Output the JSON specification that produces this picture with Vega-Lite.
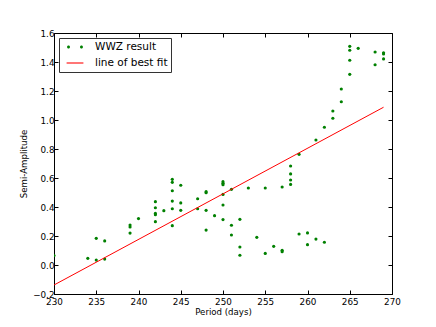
{
  "$schema": "https://vega.github.io/schema/vega-lite/v6.json",
  "autosize": "none",
  "width": 338,
  "height": 261,
  "padding": {"left": 54, "top": 33, "right": 44, "bottom": 33},
  "background": "white",
  "config": {
    "font": "DejaVu Sans",
    "view": {"stroke": "black", "strokeWidth": 1},
    "axis": {
      "grid": false,
      "domainColor": "black",
      "tickColor": "black",
      "labelColor": "black",
      "titleColor": "black",
      "labelFont": "DejaVu Sans",
      "titleFont": "DejaVu Sans",
      "labelFontSize": 8.8,
      "titleFontSize": 8.6,
      "titleFontWeight": "normal",
      "tickSize": -4
    },
    "legend": {
      "labelFont": "DejaVu Sans",
      "labelFontSize": 10.5,
      "labelColor": "black",
      "orient": "top-left",
      "offset": 5,
      "padding": 3,
      "strokeColor": "#333333",
      "fillColor": "white",
      "cornerRadius": 0,
      "symbolSize": 144,
      "symbolOffset": 7,
      "labelOffset": 14,
      "rowPadding": 4,
      "symbolStrokeWidth": 0,
      "symbolStrokeColor": "transparent"
    }
  },
  "datasets": {
    "pts": [
      {"period": 230, "amp": 0.065},
      {"period": 234, "amp": 0.046},
      {"period": 235, "amp": 0.184},
      {"period": 235, "amp": 0.034},
      {"period": 236, "amp": 0.166},
      {"period": 236, "amp": 0.041},
      {"period": 239, "amp": 0.276},
      {"period": 239, "amp": 0.262},
      {"period": 239, "amp": 0.22},
      {"period": 240, "amp": 0.32},
      {"period": 242, "amp": 0.437},
      {"period": 242, "amp": 0.395},
      {"period": 242, "amp": 0.356},
      {"period": 242, "amp": 0.347},
      {"period": 242, "amp": 0.299},
      {"period": 243, "amp": 0.375},
      {"period": 244, "amp": 0.591},
      {"period": 244, "amp": 0.57},
      {"period": 244, "amp": 0.512},
      {"period": 244, "amp": 0.441},
      {"period": 244, "amp": 0.388},
      {"period": 244, "amp": 0.271},
      {"period": 245, "amp": 0.55},
      {"period": 245, "amp": 0.428},
      {"period": 245, "amp": 0.377},
      {"period": 247, "amp": 0.457},
      {"period": 247, "amp": 0.388},
      {"period": 248, "amp": 0.506},
      {"period": 248, "amp": 0.499},
      {"period": 248, "amp": 0.377},
      {"period": 248, "amp": 0.241},
      {"period": 249, "amp": 0.34},
      {"period": 250, "amp": 0.575},
      {"period": 250, "amp": 0.563},
      {"period": 250, "amp": 0.554},
      {"period": 250, "amp": 0.487},
      {"period": 250, "amp": 0.414},
      {"period": 250, "amp": 0.313},
      {"period": 251, "amp": 0.522},
      {"period": 251, "amp": 0.274},
      {"period": 251, "amp": 0.207},
      {"period": 252, "amp": 0.315},
      {"period": 252, "amp": 0.124},
      {"period": 252, "amp": 0.067},
      {"period": 253, "amp": 0.531},
      {"period": 254, "amp": 0.191},
      {"period": 255, "amp": 0.531},
      {"period": 255, "amp": 0.08},
      {"period": 256, "amp": 0.129},
      {"period": 257, "amp": 0.538},
      {"period": 257, "amp": 0.101},
      {"period": 257, "amp": 0.092},
      {"period": 258, "amp": 0.683},
      {"period": 258, "amp": 0.628},
      {"period": 258, "amp": 0.586},
      {"period": 258, "amp": 0.556},
      {"period": 259, "amp": 0.763},
      {"period": 259, "amp": 0.214},
      {"period": 260, "amp": 0.221},
      {"period": 260, "amp": 0.14},
      {"period": 261, "amp": 0.862},
      {"period": 261, "amp": 0.179},
      {"period": 262, "amp": 0.95},
      {"period": 262, "amp": 0.157},
      {"period": 263, "amp": 1.012},
      {"period": 263, "amp": 1.062},
      {"period": 264, "amp": 1.126},
      {"period": 264, "amp": 1.214},
      {"period": 265, "amp": 1.315},
      {"period": 265, "amp": 1.412},
      {"period": 265, "amp": 1.481},
      {"period": 265, "amp": 1.508},
      {"period": 266, "amp": 1.494},
      {"period": 268, "amp": 1.469},
      {"period": 268, "amp": 1.381},
      {"period": 269, "amp": 1.464},
      {"period": 269, "amp": 1.455},
      {"period": 269, "amp": 1.421}
    ],
    "fit": [
      {"period": 230, "amp": -0.138},
      {"period": 269, "amp": 1.088}
    ]
  },
  "layer": [
    {
      "data": {"name": "pts"},
      "transform": [{"calculate": "'WWZ result'", "as": "series"}],
      "mark": {"type": "point", "filled": true, "size": 10, "opacity": 1, "strokeWidth": 0, "clip": true},
      "encoding": {
        "x": {
          "field": "period", "type": "quantitative",
          "scale": {"domain": [230, 270], "nice": false, "zero": false},
          "axis": {"orient": "bottom", "values": [230, 235, 240, 245, 250, 255, 260, 265, 270], "title": "Period (days)", "labelPadding": 7, "titlePadding": 2, "labelFlush": false}
        },
        "y": {
          "field": "amp", "type": "quantitative",
          "scale": {"domain": [-0.2, 1.6], "nice": false, "zero": false},
          "axis": {"orient": "left", "values": [-0.2, 0, 0.2, 0.4, 0.6, 0.8, 1.0, 1.2, 1.4, 1.6], "title": "Semi-Amplitude", "labelPadding": 4, "titlePadding": 4, "labelExpr": "replace(format(datum.value, '.1f'), '-', '\u2212')", "labelFlush": false}
        },
        "color": {
          "field": "series", "type": "nominal",
          "scale": {"domain": ["WWZ result", "line of best fit"], "range": ["#008000", "#ff0000"]},
          "legend": {"title": null}
        }
      }
    },
    {
      "data": {"name": "fit"},
      "transform": [{"calculate": "'line of best fit'", "as": "series"}],
      "mark": {"type": "line", "strokeWidth": 1, "clip": true},
      "encoding": {
        "x": {
          "field": "period", "type": "quantitative",
          "axis": {"orient": "top", "values": [230, 235, 240, 245, 250, 255, 260, 265, 270], "labels": false, "title": null, "domain": false}
        },
        "y": {
          "field": "amp", "type": "quantitative",
          "axis": {"orient": "right", "values": [-0.2, 0, 0.2, 0.4, 0.6, 0.8, 1.0, 1.2, 1.4, 1.6], "labels": false, "title": null, "domain": false}
        },
        "color": {"field": "series", "type": "nominal", "legend": {"title": null}}
      }
    },
    {
      "data": {"name": "fit"},
      "transform": [{"calculate": "'line of best fit'", "as": "series"}],
      "mark": {"type": "point", "filled": true, "opacity": 0, "clip": true},
      "encoding": {
        "x": {"field": "period", "type": "quantitative", "axis": null},
        "y": {"field": "amp", "type": "quantitative", "axis": null},
        "color": {"field": "series", "type": "nominal", "legend": {"title": null}},
        "shape": {
          "field": "series", "type": "nominal",
          "scale": {"domain": ["WWZ result", "line of best fit"], "range": ["M-1.33,0A0.25,0.25 0 1,0 -0.83,0A0.25,0.25 0 1,0 -1.33,0Z M0.83,0A0.25,0.25 0 1,0 1.33,0A0.25,0.25 0 1,0 0.83,0Z", "M-1.4,-0.09L1.4,-0.09L1.4,0.09L-1.4,0.09Z"]},
          "legend": {"title": null}
        }
      }
    }
  ],
  "resolve": {"axis": {"x": "independent", "y": "independent"}}
}
